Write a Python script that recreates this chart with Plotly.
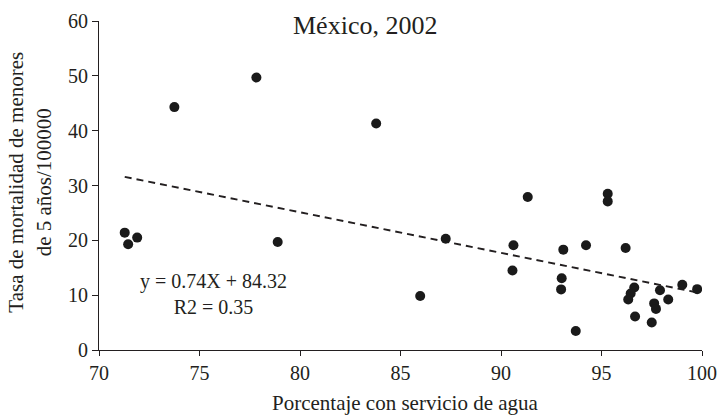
import plotly.graph_objects as go

# Data
agua_pct = [73.75, 77.83, 83.79, 71.28, 71.45, 71.9, 78.89, 85.98, 87.25, 91.33,
            90.62, 90.57, 93.1, 93.02, 92.99, 94.23, 93.72, 95.31, 95.31, 96.2,
            96.63, 96.45, 96.33, 96.67, 97.5, 97.62, 97.71, 97.91, 98.32, 99.02,
            99.76]
mortalidad = [44.3, 49.7, 41.3, 21.4, 19.3, 20.5, 19.7, 9.84, 20.3, 27.9,
              19.1, 14.5, 18.3, 13.1, 11.05, 19.1, 3.46, 28.5, 27.1, 18.6,
              11.4, 10.3, 9.2, 6.1, 5.0, 8.5, 7.5, 10.9, 9.2, 11.9,
              11.1]
slope = -0.74
intercept = 84.32
x_ticks = [70, 75, 80, 85, 90, 95, 100]
y_ticks = [0, 10, 20, 30, 40, 50, 60]

FONT = "Liberation Serif"
INK = "#231f20"

xmin, xmax = min(agua_pct), max(agua_pct)
trend_x = [xmin, xmax]
trend_y = [slope * v + intercept for v in trend_x]

fig = go.Figure()
fig.add_trace(go.Scatter(x=trend_x, y=trend_y, mode="lines",
                         line=dict(color=INK, width=2, dash="7px,5px"),
                         hoverinfo="skip", showlegend=False))
fig.add_trace(go.Scatter(x=agua_pct, y=mortalidad, mode="markers",
                         marker=dict(color="#1a1a1a", size=10),
                         showlegend=False))

fig.update_layout(
    width=718, height=415,
    margin=dict(l=98.5, r=16, t=20.7, b=65, autoexpand=False),
    paper_bgcolor="white", plot_bgcolor="white",
    font=dict(family=FONT, color=INK, size=20),
    xaxis=dict(range=[70, 100], tickvals=x_ticks, ticktext=[str(v) for v in x_ticks],
               automargin=False,
               showgrid=False, zeroline=False, showline=True, linecolor=INK, linewidth=1.2,
               ticks="outside", ticklen=5, tickcolor=INK, tickwidth=1.2,
               tickfont=dict(family=FONT, size=20, color=INK)),
    yaxis=dict(range=[0, 60], tickvals=y_ticks, ticktext=[str(v) for v in y_ticks],
               automargin=False,
               showgrid=False, zeroline=False, showline=True, linecolor=INK, linewidth=1.2,
               ticks="outside", ticklen=6, tickcolor=INK, tickwidth=1.2,
               tickfont=dict(family=FONT, size=20, color=INK)),
    annotations=[
        dict(text="México, 2002", xref="paper", yref="paper", x=0.4416, y=0.987,
             xanchor="center", yanchor="middle", showarrow=False,
             font=dict(family=FONT, size=26, color=INK)),
        dict(text="y = 0.74X + 84.32<br>R2 = 0.35", xref="x", yref="y", x=75.69, y=10.2,
             xanchor="center", yanchor="middle", showarrow=False, align="center",
             font=dict(family=FONT, size=20, color=INK)),
        dict(text="Porcentaje con servicio de agua", xref="paper", yref="paper",
             x=0.5079, y=-0.161, xanchor="center", yanchor="middle", showarrow=False,
             font=dict(family=FONT, size=21, color=INK)),
        dict(text="Tasa de mortalidad de menores<br>de 5 años/100000", xref="paper", yref="paper",
             x=-0.1143, y=0.5087, xanchor="center", yanchor="middle", showarrow=False,
             textangle=-90, align="center",
             font=dict(family=FONT, size=21, color=INK)),
    ],
)

# remove the page's default 8px body margin so the figure fills the window exactly
fig.write_html("out.html",
               config={"displayModeBar": False},
               post_script="document.body.style.margin='0';document.body.style.overflow='hidden';")
